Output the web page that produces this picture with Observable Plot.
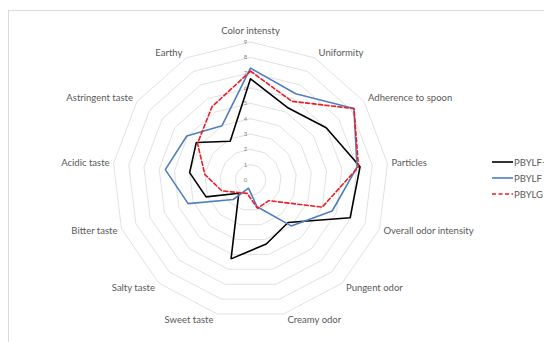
<!DOCTYPE html>
<html><head><meta charset="utf-8">
<script src="https://cdn.jsdelivr.net/npm/d3@7"></script>
<script src="https://cdn.jsdelivr.net/npm/@observablehq/plot@0.6"></script>
<style>
html,body{margin:0;padding:0;background:#fff;}
#wrap{position:relative;width:544px;height:342px;overflow:hidden;font-family:Lato,"Open Sans",sans-serif;}
#frame{position:absolute;left:8px;top:10px;width:600px;height:400px;border:1px solid #d9d9d9;box-sizing:border-box;}
#chart{position:absolute;left:0;top:0;}
#legend{position:absolute;left:492px;top:154px;font-size:9.5px;color:#595959;}
#legend div{height:16px;display:flex;align-items:center;white-space:nowrap;}
#legend svg{margin-right:1px;}
</style></head><body>
<div id="wrap"><div id="frame"></div><div id="chart"></div><div id="legend"></div></div>
<script>
// ---- data ----
const attributes = ["Color intensty","Uniformity","Adherence to spoon","Particles","Overall odor intensity","Pungent odor","Creamy odor","Sweet taste","Salty taste","Bitter taste","Acidic taste","Astringent taste","Earthy"];
const seriesNames = ["PBYLF+G","PBYLF","PBYLG"];
const valuesPBYLFG = [6.6, 5.3, 6.0, 7.2, 6.95, 3.7, 4.3, 5.3, 1.15, 3.1, 4.0, 4.3, 2.85];
const valuesPBYLF  = [7.3, 6.35, 8.2, 7.0, 5.7, 4.0, 1.8, 0.55, 1.7, 4.35, 5.6, 5.05, 4.0];
const valuesPBYLG  = [7.1, 5.8, 8.2, 7.1, 5.0, 1.8, 1.9, 0.9, 1.1, 2.0, 3.0, 4.2, 5.4];
const tickValues = [0,1,2,3,4,5,6,7,8,9];

// ---- layout ----
const W = 544, H = 342, CX = 250, CY = 179.5, U = 15.33, RMAX = 9;
const N = attributes.length;
const ang = i => i * 2 * Math.PI / N;
const textColor = "#595959";
const font = 'Lato, "Open Sans", sans-serif';

function closedPoints(vals, name) {
  const pts = [];
  for (let i = 0; i <= N; i++) {
    const k = i % N;
    pts.push({series: name, x: vals[k] * Math.sin(ang(k)), y: vals[k] * Math.cos(ang(k))});
  }
  return pts;
}
const rings = [];
for (const lv of tickValues.slice(1)) {
  const vals = attributes.map(() => lv);
  rings.push(...closedPoints(vals, lv));
}

const labels = attributes.map((name, i) => {
  const a = ang(i), s = Math.sin(a), c = Math.cos(a);
  const side = Math.abs(s) < 0.05 ? 0 : Math.sign(s);
  const dyPx = side === 0 ? 11.5 : 6 * c;
  return {name, side,
    x: RMAX * s + side * 4 / U,
    y: RMAX * c + dyPx / U};
});

const colors = {"PBYLF+G": "#000000", "PBYLF": "#4f7fc0", "PBYLG": "#ee1c25"};
const dashes = {"PBYLF+G": null, "PBYLF": null, "PBYLG": "4,2.5"};
const seriesVals = {"PBYLF+G": valuesPBYLFG, "PBYLF": valuesPBYLF, "PBYLG": valuesPBYLG};

const marks = [
  Plot.line(rings, {x: "x", y: "y", z: "series", stroke: "#d9d9d9", strokeWidth: 0.8}),
  Plot.text(tickValues, {x: () => 0, y: d => d, text: d => String(d), dx: -5, textAnchor: "middle", fontSize: 6, fill: "#7f7f7f"}),
];
for (const name of seriesNames) {
  marks.push(Plot.line(closedPoints(seriesVals[name], name), {
    x: "x", y: "y", stroke: colors[name], strokeWidth: 1.6,
    strokeDasharray: dashes[name] || undefined, strokeLinejoin: "miter"
  }));
}
for (const [side, anchor] of [[1, "start"], [-1, "end"], [0, "middle"]]) {
  marks.push(Plot.text(labels.filter(d => d.side === side), {
    x: "x", y: "y", text: "name", textAnchor: anchor, fontSize: 9.5, fill: textColor
  }));
}

const chart = Plot.plot({
  width: W, height: H, margin: 0,
  style: {fontFamily: font, background: "transparent"},
  x: {domain: [-CX / U, (W - CX) / U], range: [0, W], axis: null},
  y: {domain: [-(H - CY) / U, CY / U], range: [H, 0], axis: null},
  marks
});
document.getElementById("chart").append(chart);

// legend
const leg = document.getElementById("legend");
for (const name of seriesNames) {
  const row = document.createElement("div");
  const d = dashes[name] ? `stroke-dasharray="${dashes[name]}"` : "";
  row.innerHTML = `<svg width="21" height="4"><line x1="0" y1="2" x2="21" y2="2" stroke="${colors[name]}" stroke-width="1.6" ${d}/></svg><span>${name}</span>`;
  leg.append(row);
}
</script>
</body></html>
